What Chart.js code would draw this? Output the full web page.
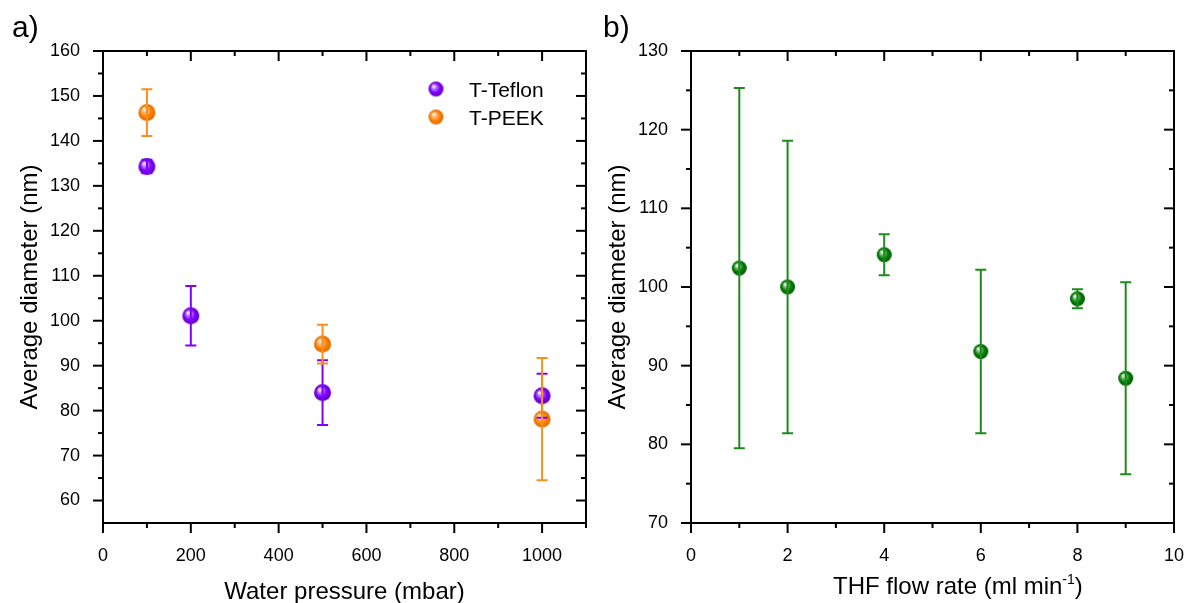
<!DOCTYPE html>
<html><head><meta charset="utf-8">
<script src="https://cdn.jsdelivr.net/npm/chart.js@4.4.1/dist/chart.umd.min.js"></script>
<style>
html,body{margin:0;padding:0;background:#fff;width:1189px;height:603px;overflow:hidden;}
#ca{position:absolute;left:0;top:0;}
#cb{position:absolute;left:595px;top:0;}
</style></head><body>
<canvas id="ca" width="595" height="603"></canvas>
<canvas id="cb" width="594" height="603"></canvas>
<script>
// ---- data ----
const teflonPressure = [100, 200, 500, 1000];
const teflonMean = [134.3, 101.1, 84.0, 83.3];
const teflonErr = [1.5, 6.6, 7.2, 4.9];
const peekPressure = [100, 500, 1000];
const peekMean = [146.3, 94.8, 78.1];
const peekErr = [5.2, 4.3, 13.6];
const flowRate = [1, 2, 4, 6, 8, 9];
const thfMean = [102.4, 100.0, 104.1, 91.8, 98.5, 88.4];
const thfErr = [22.9, 18.6, 2.6, 10.4, 1.2, 12.2];

// ---- ticks ----
const xTicksA = [0, 200, 400, 600, 800, 1000];
const xMinorA = [100, 300, 500, 700, 900, 1100];
const yTicksA = [60, 70, 80, 90, 100, 110, 120, 130, 140, 150, 160];
const yMinorA = [65, 75, 85, 95, 105, 115, 125, 135, 145, 155];
const xTicksB = [0, 2, 4, 6, 8, 10];
const xMinorB = [1, 3, 5, 7, 9];
const yTicksB = [70, 80, 90, 100, 110, 120, 130];
const yMinorB = [75, 85, 95, 105, 115, 125];

// ---- texts ----
const seriesNames = ['T-Teflon', 'T-PEEK'];
const yTitle = 'Average diameter (nm)';
const xTitleA = 'Water pressure (mbar)';
const xTitleB = ['THF flow rate (ml min', '-1', ')'];
const panelA = 'a)';
const panelB = 'b)';

const F = '"Liberation Sans", Arial, sans-serif';

function sphere(r, base, light, dark) {
  const c = document.createElement('canvas');
  const s = Math.ceil(2 * r + 2);
  c.width = s; c.height = s;
  const g = c.getContext('2d');
  const cx = s / 2, cy = s / 2;
  const gr = g.createRadialGradient(cx - r * 0.35, cy - r * 0.38, r * 0.05, cx, cy, r);
  gr.addColorStop(0, '#ffffff');
  gr.addColorStop(0.22, light);
  gr.addColorStop(0.62, base);
  gr.addColorStop(1, dark);
  g.fillStyle = gr;
  g.beginPath(); g.arc(cx, cy, r, 0, Math.PI * 2); g.fill();
  return c;
}
const purpleBall = sphere(8.5, '#7f00ff', '#c58cff', '#5c00bb');
const orangeBall = sphere(8.5, '#ff8000', '#ffc48a', '#d86a00');
const greenBall = sphere(7.5, '#008000', '#8cc88c', '#005800');
const purpleLegend = sphere(7.5, '#7f00ff', '#c58cff', '#5c00bb');
const orangeLegend = sphere(7.5, '#ff8000', '#ffc48a', '#d86a00');

const framePlugin = {
  id: 'frame',
  afterDraw(chart, args, o) {
    const {ctx, chartArea: {left, right, top, bottom}, scales: {x, y}} = chart;
    ctx.save();
    ctx.strokeStyle = '#000';
    ctx.lineWidth = 2;
    const ln = (x1, y1, x2, y2) => { ctx.beginPath(); ctx.moveTo(x1, y1); ctx.lineTo(x2, y2); ctx.stroke(); };
    const MA = 10, MI = 5;
    o.xMajor.forEach(v => { const p = x.getPixelForValue(v); ln(p, bottom, p, bottom + MA); ln(p, top, p, top + MA); });
    o.xMinor.forEach(v => { const p = x.getPixelForValue(v); ln(p, bottom, p, bottom + MI); ln(p, top, p, top + MI); });
    o.yMajor.forEach(v => { const p = y.getPixelForValue(v); ln(left - MA, p, left, p); ln(right - MA, p, right, p); });
    o.yMinor.forEach(v => { const p = y.getPixelForValue(v); ln(left - MI, p, left, p); ln(right - MI, p, right, p); });
    ctx.strokeRect(left, top, right - left, bottom - top);
    ctx.fillStyle = '#000';
    ctx.font = '30px ' + F;
    ctx.textBaseline = 'alphabetic';
    ctx.textAlign = 'left';
    ctx.fillText(o.label, o.labelX, 37);
    ctx.restore();
  }
};

const errPlugin = {
  id: 'errbars',
  afterDatasetsDraw(chart) {
    const {ctx, scales: {x, y}} = chart;
    ctx.save();
    chart.data.datasets.forEach(ds => {
      ctx.strokeStyle = ds.errColor;
      ctx.lineWidth = 2;
      ds.data.forEach((d, i) => {
        const e = ds.errors[i];
        const px = x.getPixelForValue(d.x);
        const pt = y.getPixelForValue(d.y + e);
        const pb = y.getPixelForValue(d.y - e);
        ctx.beginPath();
        ctx.moveTo(px, pt); ctx.lineTo(px, pb);
        ctx.moveTo(px - 5.5, pt); ctx.lineTo(px + 5.5, pt);
        ctx.moveTo(px - 5.5, pb); ctx.lineTo(px + 5.5, pb);
        ctx.stroke();
      });
    });
    ctx.restore();
  }
};

const legendPlugin = {
  id: 'customLegend',
  afterDraw(chart, args, o) {
    if (!o.show) return;
    const ctx = chart.ctx;
    ctx.save();
    ctx.font = '21px ' + F;
    ctx.fillStyle = '#000';
    ctx.textBaseline = 'alphabetic';
    ctx.textAlign = 'left';
    const balls = [purpleLegend, orangeLegend];
    chart.data.datasets.forEach((ds, i) => {
      const cy = 89 + i * 28;
      const b = balls[i];
      ctx.drawImage(b, 436 - b.width / 2, cy - b.height / 2);
      ctx.fillText(ds.label, 469, cy + 7.5);
    });
    ctx.restore();
  }
};

const xTitlePlugin = {
  id: 'xTitleSup',
  afterDraw(chart, args, o) {
    if (!o.parts) return;
    const ctx = chart.ctx;
    ctx.save();
    ctx.fillStyle = '#000';
    ctx.textBaseline = 'alphabetic';
    ctx.textAlign = 'left';
    let xx = o.x;
    const base = 594;
    ctx.font = '24px ' + F;
    ctx.fillText(o.parts[0], xx, base);
    xx += ctx.measureText(o.parts[0]).width;
    ctx.font = '14px ' + F;
    ctx.fillText(o.parts[1], xx, base - 10);
    xx += ctx.measureText(o.parts[1]).width;
    ctx.font = '24px ' + F;
    ctx.fillText(o.parts[2], xx, base);
    ctx.restore();
  }
};

function xAxis(min, max, ticksArr, title) {
  return {
    type: 'linear', position: 'bottom', min, max,
    afterBuildTicks: s => { s.ticks = ticksArr.map(v => ({value: v})); },
    afterFit: s => { s.height = 80; s.paddingLeft = 0; s.paddingRight = 0; },
    grid: {display: false, drawTicks: false},
    border: {display: false},
    ticks: {font: {family: F, size: 18}, color: '#000', padding: 22, maxRotation: 0, autoSkip: false,
            callback: v => String(v)},
    title: {display: !!title, text: title || '', font: {family: F, size: 24, lineHeight: 0.87}, color: '#000', padding: 0}
  };
}
function yAxis(min, max, ticksArr, w, tpad) {
  return {
    type: 'linear', position: 'left', min, max,
    afterBuildTicks: s => { s.ticks = ticksArr.map(v => ({value: v})); },
    afterFit: s => { s.width = w; s.paddingTop = 0; s.paddingBottom = 0; },
    grid: {display: false, drawTicks: false},
    border: {display: false},
    ticks: {font: {family: F, size: 18}, color: '#000', padding: 23, autoSkip: false, callback: v => String(v)},
    title: {display: true, text: yTitle, font: {family: F, size: 24, lineHeight: 1.2}, color: '#000', padding: {top: tpad, bottom: 0}}
  };
}

const common = {
  responsive: false, animation: false, events: [],
  plugins: {legend: {display: false}, tooltip: {enabled: false}}
};

new Chart(document.getElementById('ca'), {
  type: 'scatter',
  data: {
    datasets: [
      {label: seriesNames[0], data: teflonPressure.map((p, i) => ({x: p, y: teflonMean[i]})), errors: teflonErr, errColor: '#8000ff',
       pointStyle: purpleBall, pointRadius: 8},
      {label: seriesNames[1], data: peekPressure.map((p, i) => ({x: p, y: peekMean[i]})), errors: peekErr, errColor: '#f7901e',
       pointStyle: orangeBall, pointRadius: 8}
    ]
  },
  options: Object.assign({}, common, {
    layout: {padding: {top: 51, right: 8, bottom: 0, left: 0}},
    scales: {x: xAxis(0, 1100, xTicksA, xTitleA), y: yAxis(55, 160, yTicksA, 103, 16)},
    plugins: Object.assign({}, common.plugins, {
      frame: {xMajor: xTicksA, xMinor: xMinorA, yMajor: yTicksA, yMinor: yMinorA, label: panelA, labelX: 12},
      customLegend: {show: true},
      xTitleSup: {}
    })
  }),
  plugins: [framePlugin, errPlugin, legendPlugin, xTitlePlugin]
});

new Chart(document.getElementById('cb'), {
  type: 'scatter',
  data: {
    datasets: [
      {label: 'THF', data: flowRate.map((f, i) => ({x: f, y: thfMean[i]})), errors: thfErr, errColor: '#1e8a1e',
       pointStyle: greenBall, pointRadius: 7}
    ]
  },
  options: Object.assign({}, common, {
    layout: {padding: {top: 51, right: 15, bottom: 0, left: 0}},
    scales: {x: xAxis(0, 10, xTicksB, null), y: yAxis(70, 130, yTicksB, 96, 9)},
    plugins: Object.assign({}, common.plugins, {
      frame: {xMajor: xTicksB, xMinor: xMinorB, yMajor: yTicksB, yMinor: yMinorB, label: panelB, labelX: 8},
      customLegend: {show: false},
      xTitleSup: {parts: xTitleB, x: 238}
    })
  }),
  plugins: [framePlugin, errPlugin, legendPlugin, xTitlePlugin]
});
</script>
</body></html>
